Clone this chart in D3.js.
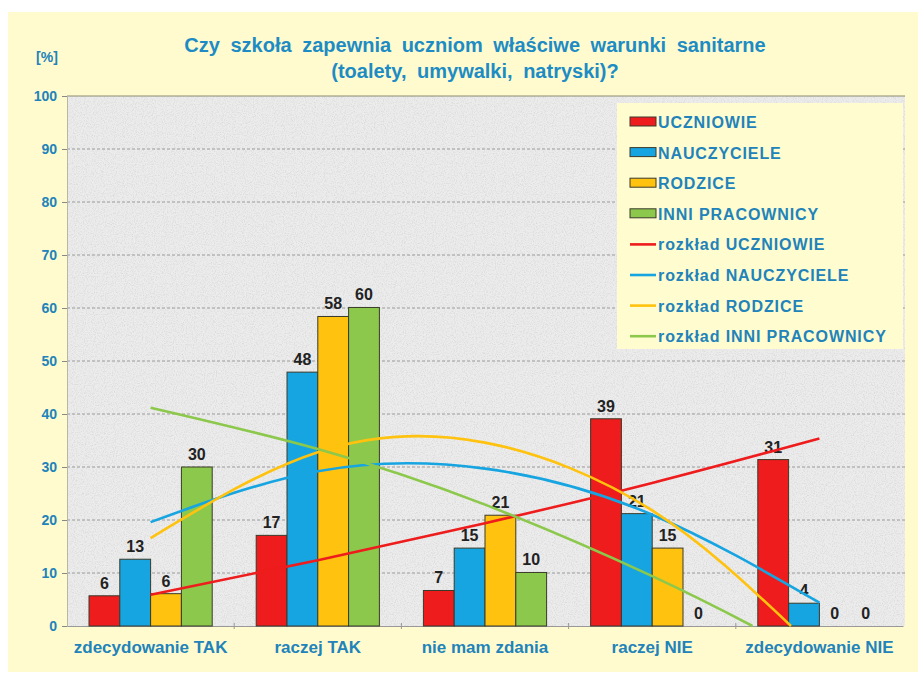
<!DOCTYPE html>
<html lang="pl">
<head>
<meta charset="utf-8">
<title>Warunki sanitarne</title>
<script src="https://cdn.jsdelivr.net/npm/d3@7"></script>
<style>
  body { margin: 0; background: #fff; }
  text { font-family: "Liberation Sans", Arial, sans-serif; font-weight: bold; }
</style>
</head>
<body>
<svg id="chart"></svg>
<script>
// data
const categories = ['zdecydowanie TAK', 'raczej TAK', 'nie mam zdania', 'raczej NIE', 'zdecydowanie NIE'];
const seriesNames = ['UCZNIOWIE', 'NAUCZYCIELE', 'RODZICE', 'INNI  PRACOWNICY'];
const uczniowie   = [5.7, 17.1, 6.7, 39.1, 31.4];
const nauczyciele = [12.6, 47.9, 14.7, 21.2, 4.3];
const rodzice     = [6.1, 58.4, 20.9, 14.7, 0];
const inni        = [30.0, 60.1, 10.1, 0, 0];
const labels = [
  ['6', '17', '7', '39', '31'],
  ['13', '48', '15', '21', '4'],
  ['6', '58', '21', '15', '0'],
  ['30', '60', '10', '0', '0']
];
// trend ("rozkład") curves: [category position, value]
const trendUczniowie   = [[0, 5.9], [1, 12.4], [2, 19.4], [3, 27.0], [4, 35.4]];
const trendNauczyciele = [[0, 19.6], [1, 29.2], [2, 29.7], [3, 21.0], [4, 4.4]];
const trendRodzice     = [[0, 16.6], [1, 32.8], [2, 34.6], [3, 21.8], [3.83, 0]];
const trendInni        = [[0, 41.2], [1, 33.4], [2, 22.9], [3, 9.4], [3.6, 0]];
const trendNames = ['rozkład UCZNIOWIE', 'rozkład NAUCZYCIELE', 'rozkład RODZICE', 'rozkład INNI PRACOWNICY'];
const yTicks = [0, 10, 20, 30, 40, 50, 60, 70, 80, 90, 100];

const barData = [uczniowie, nauczyciele, rodzice, inni];
const trends = [trendUczniowie, trendNauczyciele, trendRodzice, trendInni];
const colors = ['#ee1c1c', '#17a5e2', '#ffc20e', '#8cc84b'];
const textBlue = '#2183ba';

const width = 918, height = 690;
const plot = {left: 67, right: 905, top: 96, bottom: 626};

const svg = d3.select('#chart')
  .attr('width', width)
  .attr('height', height);

const defs = svg.append('defs');
const noise = defs.append('filter').attr('id', 'noise')
  .attr('x', 0).attr('y', 0).attr('width', '100%').attr('height', '100%');
noise.append('feTurbulence')
  .attr('type', 'fractalNoise')
  .attr('baseFrequency', 0.9)
  .attr('numOctaves', 2)
  .attr('seed', 3);
noise.append('feColorMatrix')
  .attr('type', 'matrix')
  .attr('values', '0 0 0 0 0.6  0 0 0 0 0.6  0 0 0 0 0.6  2.2 0 0 0 -0.95');

// outer background
svg.append('rect')
  .attr('x', 8).attr('y', 12)
  .attr('width', width - 8).attr('height', 660)
  .attr('fill', '#fffbcf');

// plot area
svg.append('rect')
  .attr('x', plot.left).attr('y', plot.top)
  .attr('width', plot.right - plot.left).attr('height', plot.bottom - plot.top)
  .attr('fill', '#ececec');
svg.append('rect')
  .attr('x', plot.left).attr('y', plot.top)
  .attr('width', plot.right - plot.left).attr('height', plot.bottom - plot.top)
  .attr('filter', 'url(#noise)')
  .attr('opacity', 0.6);

const x0 = d3.scaleBand()
  .domain(categories)
  .range([plot.left, plot.right - 2])
  .padding(0);

const gap = 44;
const x1 = d3.scaleBand()
  .domain(d3.range(seriesNames.length))
  .range([gap / 2, x0.bandwidth() - gap / 2]);

const y = d3.scaleLinear()
  .domain([0, 100])
  .range([plot.bottom, plot.top]);

const xPos = d3.scaleLinear()
  .domain([0, categories.length - 1])
  .range([x0(categories[0]) + x0.bandwidth() / 2, x0(categories[4]) + x0.bandwidth() / 2]);

// grid
svg.append('g')
  .selectAll('line')
  .data(yTicks.filter(d => d > 0))
  .enter().append('line')
  .attr('x1', plot.left).attr('x2', plot.right)
  .attr('y1', d => y(d)).attr('y2', d => y(d))
  .attr('stroke', d => d === 100 ? '#8c8c70' : '#9a9a9a')
  .attr('stroke-width', 1)
  .attr('stroke-dasharray', d => d === 100 ? null : '3,2');

// y axis
const yAxis = svg.append('g')
  .attr('transform', `translate(${plot.left},0)`)
  .call(d3.axisLeft(y).tickValues(yTicks).tickSize(5).tickPadding(5));
yAxis.select('.domain').attr('stroke', '#b8b8a0');
yAxis.selectAll('.tick line').attr('stroke', '#888');
yAxis.selectAll('text')
  .attr('fill', textBlue)
  .style('font-size', '14px');

// x axis
const xAxis = svg.append('g')
  .attr('transform', `translate(0,${plot.bottom})`)
  .call(d3.axisBottom(x0).tickSize(0).tickPadding(15));
xAxis.select('.domain').attr('stroke', '#999');
xAxis.selectAll('text')
  .attr('fill', textBlue)
  .style('font-size', '17px');
svg.append('g')
  .selectAll('line')
  .data(categories.slice(1))
  .enter().append('line')
  .attr('x1', d => x0(d)).attr('x2', d => x0(d))
  .attr('y1', plot.bottom - 3).attr('y2', plot.bottom + 3)
  .attr('stroke', '#999');

// bars
const groups = svg.append('g')
  .selectAll('g')
  .data(barData)
  .enter().append('g')
  .attr('fill', (d, i) => colors[i]);

groups.selectAll('rect')
  .data((d, i) => d.map((v, j) => ({v, s: i, c: categories[j]})))
  .enter().append('rect')
  .attr('x', d => x0(d.c) + x1(d.s))
  .attr('y', d => y(d.v))
  .attr('width', x1.bandwidth())
  .attr('height', d => y(0) - y(d.v))
  .attr('stroke', '#3a3a2a')
  .attr('stroke-width', 1);

// trend curves
const line = d3.line()
  .x(d => xPos(d[0]))
  .y(d => y(d[1]))
  .curve(d3.curveNatural);

svg.append('g')
  .selectAll('path')
  .data(trends)
  .enter().append('path')
  .attr('d', line)
  .attr('fill', 'none')
  .attr('stroke', (d, i) => colors[i])
  .attr('stroke-width', 2.6);

// value labels
groups.selectAll('text')
  .data((d, i) => d.map((v, j) => ({v, s: i, c: categories[j], t: labels[i][j]})))
  .enter().append('text')
  .attr('x', d => x0(d.c) + x1(d.s) + x1.bandwidth() / 2)
  .attr('y', d => y(d.v) - 7)
  .attr('text-anchor', 'middle')
  .attr('fill', '#222')
  .style('font-size', '16px')
  .text(d => d.t);

// legend
const legend = svg.append('g')
  .attr('transform', 'translate(617,103)');
legend.append('rect')
  .attr('width', 286).attr('height', 246)
  .attr('fill', '#fffcd0');

const legendItems = seriesNames.map((n, i) => ({n, i, bar: true}))
  .concat(trendNames.map((n, i) => ({n, i, bar: false})));

const li = legend.selectAll('g.item')
  .data(legendItems)
  .enter().append('g')
  .attr('class', 'item')
  .attr('transform', (d, k) => `translate(13,${19 + k * 30.6})`);

li.filter(d => d.bar).append('rect')
  .attr('x', 0).attr('y', -5)
  .attr('width', 26).attr('height', 9)
  .attr('fill', d => colors[d.i])
  .attr('stroke', '#3a3a2a')
  .attr('stroke-width', 1);
li.filter(d => !d.bar).append('line')
  .attr('x1', 0).attr('x2', 26)
  .attr('y1', 0).attr('y2', 0)
  .attr('stroke', d => colors[d.i])
  .attr('stroke-width', 2.6);
li.append('text')
  .attr('x', 28)
  .attr('y', 6)
  .attr('fill', textBlue)
  .style('font-size', '16px')
  .style('letter-spacing', '0.9px')
  .text(d => d.n);

// titles
svg.append('text')
  .attr('x', 475).attr('y', 52)
  .attr('text-anchor', 'middle')
  .attr('fill', '#1d8cc4')
  .style('font-size', '20px')
  .style('word-spacing', '5px')
  .text('Czy szkoła zapewnia uczniom  właściwe warunki sanitarne');
svg.append('text')
  .attr('x', 475).attr('y', 78)
  .attr('text-anchor', 'middle')
  .attr('fill', '#1d8cc4')
  .style('font-size', '20px')
  .style('word-spacing', '5px')
  .text('(toalety,  umywalki,  natryski)?');
svg.append('text')
  .attr('x', 47).attr('y', 62)
  .attr('text-anchor', 'middle')
  .attr('fill', textBlue)
  .style('font-size', '14px')
  .text('[%]');
</script>
</body>
</html>
